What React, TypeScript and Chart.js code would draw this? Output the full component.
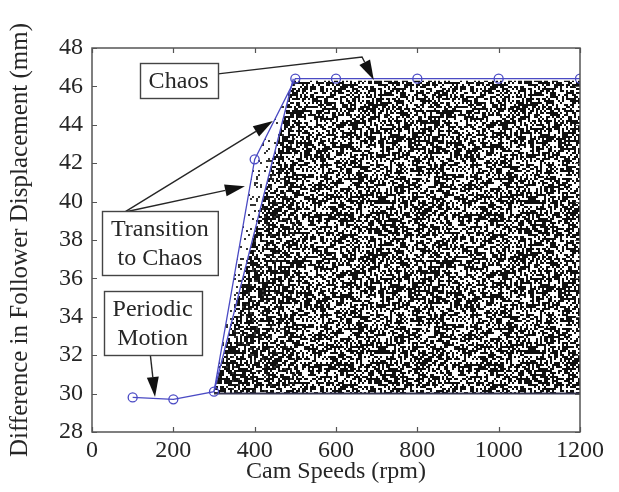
import React, { useEffect, useRef } from "react";
import { Chart, registerables } from "chart.js";
Chart.register(...registerables);

// ---- data ----
const camSpeeds = [100, 200, 300, 400, 500, 600, 800, 1000, 1200];
const displacement = [29.8, 29.7, 30.1, 42.2, 46.4, 46.4, 46.4, 46.4, 46.4];
const envelopeSpeeds = [300, 495];
const envelopeValues = [30.1, 46.4];
const chaosSpeeds = [300, 495, 1200];
const chaosTop = [30.0, 46.3, 46.3];
const chaosFloor = 30.0;
const floorSpeeds = [300, 1200];
const transitionSpeeds = [300, 400, 500];
const transitionTop = [30.1, 42.2, 46.4];
const xTickValues = [0, 200, 400, 600, 800, 1000, 1200];
const yTickValues = [28, 30, 32, 34, 36, 38, 40, 42, 44, 46, 48];
const xTitle = "Cam Speeds (rpm)";
const yTitle = "Difference in Follower Displacement (mm)";
const noteChaos = ["Chaos"];
const noteTransition = ["Transition", "to Chaos"];
const notePeriodic = ["Periodic", "Motion"];

const SERIF = '"Liberation Serif", "Times New Roman", serif';
const BLUE = "#4a4ac4";
const INK = "#262626";

function speckle(density: number, seed: number, cell: number, color: string) {
  const size = 150;
  const c = document.createElement("canvas");
  c.width = size;
  c.height = size;
  const g = c.getContext("2d")!;
  g.fillStyle = color;
  for (let y = 0; y < size; y += cell) {
    for (let x = 0; x < size; x += cell) {
      let h = (Math.imul(x + 1, 374761393) + Math.imul(y + 7, 668265263) + Math.imul(seed, 982451653)) | 0;
      h = Math.imul(h ^ (h >>> 13), 1274126177);
      h ^= h >>> 16;
      const u = (h >>> 0) / 4294967296;
      if (u < density) g.fillRect(x, y, cell, cell);
    }
  }
  return g.createPattern(c, "repeat")!;
}

type Note = { lines: string[]; at: [number, number]; arrows: [number, number][][] };

const notes: Note[] = [
  { lines: noteChaos, at: [213, 46.33], arrows: [[[310, 46.65], [664, 47.53], [693, 46.33]]] },
  {
    lines: noteTransition,
    at: [167, 37.84],
    arrows: [
      [[81, 39.46], [445, 44.2]],
      [[81, 39.46], [376, 40.8]],
    ],
  },
  { lines: notePeriodic, at: [149, 33.7], arrows: [[[142.6, 32.17], [155, 29.82]]] },
];

const decorPlugin = {
  id: "decor",
  afterDraw(chart: any) {
    const { ctx, chartArea: a, scales } = chart;
    const xs = scales.x;
    const ys = scales.y;
    ctx.save();
    ctx.strokeStyle = "#555";
    ctx.lineWidth = 1.5;
    ctx.strokeRect(a.left, a.top, a.right - a.left, a.bottom - a.top);
    const tl = 5;
    ctx.lineWidth = 1.2;
    ctx.beginPath();
    for (const v of xTickValues) {
      const px = Math.round(xs.getPixelForValue(v)) + 0.5;
      ctx.moveTo(px, a.bottom);
      ctx.lineTo(px, a.bottom - tl);
      ctx.moveTo(px, a.top);
      ctx.lineTo(px, a.top + tl);
    }
    for (const v of yTickValues) {
      const py = Math.round(ys.getPixelForValue(v)) + 0.5;
      ctx.moveTo(a.left, py);
      ctx.lineTo(a.left + tl, py);
      ctx.moveTo(a.right, py);
      ctx.lineTo(a.right - tl, py);
    }
    ctx.stroke();

    ctx.font = `24px ${SERIF}`;
    const lh = 29;
    const padX = 9;
    const padY = 3;
    for (const n of notes) {
      for (const arr of n.arrows) {
        const pts = arr.map(([vx, vy]) => [xs.getPixelForValue(vx), ys.getPixelForValue(vy)]);
        const [tx, ty] = pts[pts.length - 1];
        const [sx, sy] = pts[pts.length - 2];
        const ang = Math.atan2(ty - sy, tx - sx);
        const L = 20;
        const W = 6;
        const bx = tx - L * Math.cos(ang);
        const by = ty - L * Math.sin(ang);
        ctx.strokeStyle = INK;
        ctx.lineWidth = 1.4;
        ctx.beginPath();
        ctx.moveTo(pts[0][0], pts[0][1]);
        for (let i = 1; i < pts.length - 1; i++) ctx.lineTo(pts[i][0], pts[i][1]);
        ctx.lineTo(bx, by);
        ctx.stroke();
        ctx.fillStyle = "#111";
        ctx.beginPath();
        ctx.moveTo(tx, ty);
        ctx.lineTo(bx + W * Math.sin(ang), by - W * Math.cos(ang));
        ctx.lineTo(bx - W * Math.sin(ang), by + W * Math.cos(ang));
        ctx.closePath();
        ctx.fill();
      }
    }
    for (const n of notes) {
      const cx = xs.getPixelForValue(n.at[0]);
      const cy = ys.getPixelForValue(n.at[1]);
      const w = Math.max(...n.lines.map((t) => ctx.measureText(t).width)) + 2 * padX;
      const h = n.lines.length * lh + 2 * padY;
      const x0 = Math.round(cx - w / 2) + 0.5;
      const y0 = Math.round(cy - h / 2) + 0.5;
      ctx.fillStyle = "#fff";
      ctx.fillRect(x0, y0, w, h);
      ctx.strokeStyle = "#444";
      ctx.lineWidth = 1.4;
      ctx.strokeRect(x0, y0, w, h);
      ctx.fillStyle = INK;
      ctx.textAlign = "center";
      ctx.textBaseline = "middle";
      n.lines.forEach((t, i) => {
        ctx.fillText(t, cx, y0 + padY + lh * (i + 0.5) + 1);
      });
    }
    ctx.restore();
  },
};

export default function App() {
  const ref = useRef<HTMLCanvasElement | null>(null);
  useEffect(() => {
    const canvas = ref.current!;
    const dense = speckle(0.55, 3, 2, "#111");
    const sparse = speckle(0.12, 11, 2, "#333");
    const toPts = (xs: number[], ys: number[]) => xs.map((x, i) => ({ x, y: ys[i] }));
    const chart = new Chart(canvas, {
      type: "scatter",
      data: {
        datasets: [
          {
            data: toPts(camSpeeds, displacement),
            showLine: true,
            borderColor: BLUE,
            borderWidth: 1.3,
            pointRadius: 4.5,
            pointBorderColor: BLUE,
            pointBackgroundColor: "rgba(0,0,0,0)",
            pointBorderWidth: 1.3,
            tension: 0,
          },
          {
            data: toPts(envelopeSpeeds, envelopeValues),
            showLine: true,
            borderColor: BLUE,
            borderWidth: 1.3,
            pointRadius: 0,
          },
          {
            data: toPts(floorSpeeds, floorSpeeds.map(() => chaosFloor)),
            showLine: true,
            borderColor: "#34344e",
            borderWidth: 2,
            pointRadius: 0,
          },
          {
            data: toPts(chaosSpeeds, chaosTop),
            showLine: true,
            borderWidth: 0,
            borderColor: "rgba(0,0,0,0)",
            pointRadius: 0,
            fill: { value: chaosFloor },
            backgroundColor: dense as any,
          },
          {
            data: toPts(transitionSpeeds, transitionTop),
            showLine: true,
            borderWidth: 0,
            borderColor: "rgba(0,0,0,0)",
            pointRadius: 0,
            fill: { value: chaosFloor },
            backgroundColor: sparse as any,
          },
        ],
      },
      options: {
        responsive: false,
        animation: false,
        devicePixelRatio: 1,
        layout: { padding: { left: 0, top: 48, right: 39, bottom: 0 } },
        plugins: { legend: { display: false }, tooltip: { enabled: false } },
        scales: {
          x: {
            type: "linear",
            min: 0,
            max: 1200,
            afterBuildTicks: (s: any) => {
              s.ticks = xTickValues.map((v) => ({ value: v }));
            },
            afterFit: (s: any) => {
              s.height = 60;
            },
            ticks: {
              font: { family: SERIF, size: 24 },
              color: INK,
              padding: 4,
              maxRotation: 0,
              autoSkip: false,
              callback: (v: any) => String(v),
            },
            grid: { display: false, drawTicks: false },
            border: { display: false },
            title: { display: true, text: xTitle, font: { family: SERIF, size: 24 }, color: INK, padding: { top: 0, bottom: 6 } },
          },
          y: {
            type: "linear",
            min: 28,
            max: 48,
            afterBuildTicks: (s: any) => {
              s.ticks = yTickValues.map((v) => ({ value: v }));
            },
            afterFit: (s: any) => {
              s.width = 92;
            },
            ticks: { font: { family: SERIF, size: 24 }, color: INK, padding: 9, autoSkip: false, callback: (v: any) => String(v) },
            grid: { display: false, drawTicks: false },
            border: { display: false },
            title: { display: true, text: yTitle, font: { family: SERIF, size: 25 }, color: INK, padding: { top: 5, bottom: 0 } },
          },
        },
      },
      plugins: [decorPlugin],
    } as any);
    return () => chart.destroy();
  }, []);
  return (
    <div style={{ position: "fixed", left: 0, top: 0, width: 619, height: 492, background: "#fff" }}>
      <canvas ref={ref} width={619} height={492} style={{ display: "block" }} />
    </div>
  );
}
